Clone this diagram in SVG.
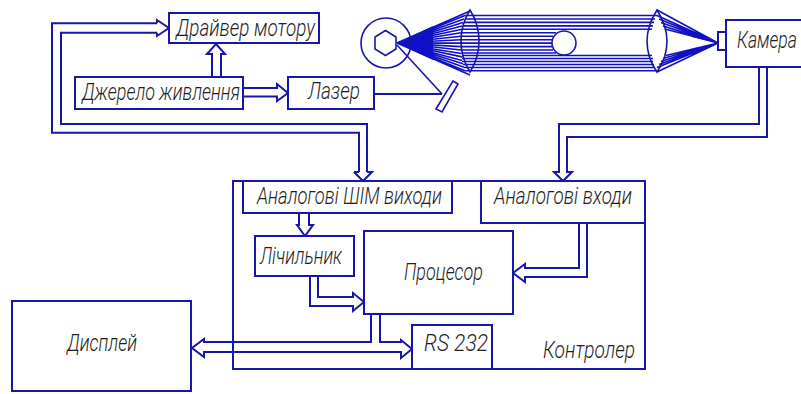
<svg xmlns="http://www.w3.org/2000/svg" width="801" height="394" viewBox="0 0 801 394">
<style>
.b{fill:#fff;stroke:#1616ac;stroke-width:2}
.c{fill:none;stroke:#1616ac;stroke-width:2;stroke-linejoin:miter}
.r{fill:none;stroke:#1010c4;stroke-width:1.6}
.l{fill:none;stroke:#1616ac;stroke-width:1.6}
text{font-family:Roboto,"Liberation Sans",sans-serif;font-style:italic;font-weight:300;font-size:23px;fill:#1e1e1e;text-anchor:start}
</style>
<rect width="801" height="394" fill="#fff"/>
<g id="optics">
<g class="r">
<path d="M397 43L470 11M397 43L465 15.500M397 43L464 19M397 43L463 22.400M397 43L462 25.900M397 43L462 29.300M397 43L461 32.800M397 43L461 36.200M397 43L461 39.700M397 43L461 43.100M397 43L461 46.600M397 43L461 50M397 43L461 53.500M397 43L462 56.900M397 43L462 60.400M397 43L463 63.800M397 43L464 67.300M397 43L465 70.700M397 43L470 75"/>
<path d="M465 15.500H657M465 19H655M464 22.400H654M463 25.900H653M463 29.300H652M652 55.500H462M653 58.500H462M653 61.500H462M654 64.500H463M655 67.500H464M657 70.700H465"/>
<path d="M461 32.800H556M461 36.200H553M461 39.700H552M461 43.100H552M461 46.600H552M461 50H553M461 53H556"/>
<path d="M657 10L718 43M657 15.500L718 43M659 19L718 43M661 22.400L718 43M663 25.900L718 43M666 29.300L718 43M666 55.500L718 43M663 58.500L718 43M661 61.500L718 43M659 64.500L718 43M657 67.500L718 43M657 72L718 43"/>
</g>
<path d="M397 43L433 26L433 60Z" fill="#1010c4"/>
<path d="M692 31L718 43L692 37ZM692 49L718 43L692 55Z" fill="#1010c4"/>
<circle cx="386" cy="43" r="25" class="l"/>
<path d="M385.500 30.500L396 37L396 49L385.500 55.500L375 49L375 37Z" class="l" fill="#fff"/>
<path d="M397 45L442 94" class="l"/>
<path d="M453 81L458 84L442 112L436 109Z" class="l" fill="#fff"/>
<path d="M470 10Q461 24 461 41Q461 58 470 72Q479 58 479 41Q479 24 470 10Z" class="l"/>
<path d="M657 10Q647 26 647 41Q647 58 657 72Q667 58 667 41Q667 26 657 10Z" class="l"/>
<circle cx="564" cy="43" r="12" class="l" fill="#fff"/>
</g>
<g id="connectors">
<path class="c" d="M359 172V132.700H52V23.300H157M367 172V124H61V32.700H157"/>
<path class="c" d="M157 32.700V36L169 28L157 20V23.300"/>
<path class="c" d="M354 172L363 181L372 172H367M359 172H354"/>
<path class="c" d="M212 77V54H207L216 44L225 54H221V77"/>
<path class="c" d="M243 88H277V84L288 93L277 101V96.500H243"/>
<path class="c" d="M374 94H442"/>
<path class="c" d="M759 67V124H559V172H554L563 181L572 172H567V137H767V67"/>
<path class="c" d="M299 213V225H297L305 236L313 225H309V213"/>
<path class="c" d="M579 223V268H525V264L513 273L525 282V277H587V223"/>
<path class="c" d="M318 276V297H353V293L364 302L353 311V306H310V276"/>
<path class="c" d="M371 314V342H204V339L192 348L204 357V352H401V358L412 349L401 340V342H380V314"/>
</g>
<g id="controller"><rect class="b" x="233" y="181" width="412" height="188" style="fill:none"/><text x="543" y="358" textLength="92" lengthAdjust="spacingAndGlyphs">Контролер</text></g>
<g id="driver"><rect class="b" x="169" y="13" width="150" height="30"/><text x="176" y="36" textLength="139" lengthAdjust="spacingAndGlyphs">Драйвер мотору</text></g>
<g id="source"><rect class="b" x="75" y="77" width="168" height="32"/><text x="82" y="100" textLength="158" lengthAdjust="spacingAndGlyphs">Джерело живлення</text></g>
<g id="laser"><rect class="b" x="288" y="77" width="86" height="32"/><text x="308" y="99" textLength="52" lengthAdjust="spacingAndGlyphs">Лазер</text></g>
<g id="camera"><rect class="b" x="718" y="32" width="8" height="18"/><path class="c" d="M801 20H726V67H801"/><text x="737" y="48" textLength="60" lengthAdjust="spacingAndGlyphs">Камера</text></g>
<g id="pwm"><rect class="b" x="243" y="181" width="209" height="32"/><text x="257" y="204" textLength="185" lengthAdjust="spacingAndGlyphs">Аналогові ШІМ виходи</text></g>
<g id="inputs"><rect class="b" x="481" y="181" width="164" height="42"/><text x="494" y="204" textLength="138" lengthAdjust="spacingAndGlyphs">Аналогові входи</text></g>
<g id="counter"><rect class="b" x="255" y="236" width="99" height="40"/><text x="260" y="264" textLength="82" lengthAdjust="spacingAndGlyphs">Лічильник</text></g>
<g id="processor"><rect class="b" x="364" y="231" width="149" height="83"/><text x="404" y="280" textLength="79" lengthAdjust="spacingAndGlyphs">Процесор</text></g>
<g id="rs232"><rect class="b" x="412" y="325" width="80" height="44"/><text x="424" y="351" textLength="64" lengthAdjust="spacingAndGlyphs">RS 232</text></g>
<g id="display"><rect class="b" x="12" y="301" width="179" height="90"/><text x="67" y="351" textLength="70" lengthAdjust="spacingAndGlyphs">Дисплей</text></g>
</svg>
